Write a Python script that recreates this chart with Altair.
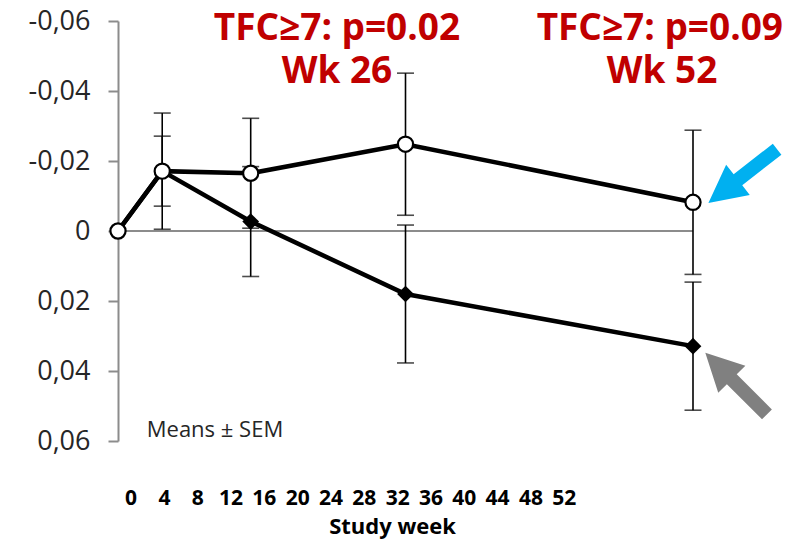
import altair as alt
import pandas as pd

# ---- data ----
weeks = [0, 4, 12, 26, 52]
mean_open = [0.0, -0.0171, -0.0165, -0.0248, -0.0082]
sem_open = [0.0, 0.0166, 0.0157, 0.0203, 0.0206]
mean_filled = [0.0, -0.0171, -0.0027, 0.0180, 0.0329]
sem_filled = [0.0, 0.0100, 0.0157, 0.0197, 0.0183]

y_ticks = [-0.06, -0.04, -0.02, 0.0, 0.02, 0.04, 0.06]
x_tick_labels = [0, 4, 8, 12, 16, 20, 24, 28, 32, 36, 40, 44, 48, 52]

note_text = ["TFC≥7: p=0.02", "Wk 26", "TFC≥7: p=0.09", "Wk 52"]
note_week = [19.8, 19.8, 49.0, 49.2]
note_value = [-0.0546, -0.0423, -0.0546, -0.0423]

means_text = ["Means ± SEM"]
means_week = [2.6]
means_value = [0.0589]

arrow_week = [56.5, 55.9]
arrow_value = [-0.0157, 0.0436]
arrow_angle = [142, 225]
arrow_color = ["#00B0F0", "#808080"]

FONT = "Open Sans"

df = pd.DataFrame({
    "week": weeks * 2,
    "mean": mean_open + mean_filled,
    "sem": sem_open + sem_filled,
    "group": ["open"] * len(weeks) + ["filled"] * len(weeks),
})
notes = pd.DataFrame({"text": note_text, "week": note_week, "value": note_value})
means_df = pd.DataFrame({"text": means_text, "week": means_week, "value": means_value})
arrows = pd.DataFrame({"week": arrow_week, "value": arrow_value,
                       "angle": arrow_angle, "color": arrow_color})
zero_df = pd.DataFrame({"value": [0.0]})
xlab_df = pd.DataFrame({"w": x_tick_labels})

xs = alt.Scale(domain=[0, 52], nice=False, zero=False)
ys = alt.Scale(domain=[-0.06, 0.06], reverse=True, nice=False, zero=False)

X = alt.X("week:Q", scale=xs, axis=None)
Y_AX = alt.Axis(
    values=y_ticks, grid=False, title=None,
    labelExpr="datum.value == 0 ? '0' : replace(replace(format(datum.value, '.2f'), '.', ','), '\u2212', '-')",
    labelFont=FONT, labelFontSize=27, labelColor="#262626", labelPadding=18,
    domainColor="#8c8c8c", domainWidth=2, tickColor="#8c8c8c", tickWidth=2, tickSize=10,
)

zero = alt.Chart(zero_df).mark_rule(color="#8c8c8c", strokeWidth=2).encode(
    y=alt.Y("value:Q", scale=ys, axis=Y_AX)
)

base = alt.Chart(df)
err = base.transform_filter("datum.sem > 0").transform_calculate(
    lo="datum.mean - datum.sem", hi="datum.mean + datum.sem"
)
err_rule = err.mark_rule(color="black", strokeWidth=1.6).encode(
    x=X, y=alt.Y("lo:Q", scale=ys), y2="hi:Q"
)
cap_lo = err.mark_tick(color="black", thickness=1.6, size=17, orient="horizontal").encode(
    x=X, y=alt.Y("lo:Q", scale=ys)
)
cap_hi = err.mark_tick(color="black", thickness=1.6, size=17, orient="horizontal").encode(
    x=X, y=alt.Y("hi:Q", scale=ys)
)

line_f = base.transform_filter("datum.group == 'filled'").mark_line(
    color="black", strokeWidth=4.5).encode(x=X, y=alt.Y("mean:Q", scale=ys))
line_o = base.transform_filter("datum.group == 'open'").mark_line(
    color="black", strokeWidth=4.5).encode(x=X, y=alt.Y("mean:Q", scale=ys))

pts_f = base.transform_filter("datum.group == 'filled' && datum.week > 4").mark_point(
    shape="diamond", filled=True, color="black", size=280, opacity=1
).encode(x=X, y=alt.Y("mean:Q", scale=ys))
pts_o = base.transform_filter("datum.group == 'open'").mark_point(
    shape="circle", filled=True, fill="white", stroke="black", strokeWidth=2.2,
    size=230, opacity=1
).encode(x=X, y=alt.Y("mean:Q", scale=ys))

note_marks = alt.Chart(notes).mark_text(
    font=FONT, fontSize=37, fontWeight="bold", color="#C00000",
    align="center", baseline="alphabetic"
).encode(x=X, y=alt.Y("value:Q", scale=ys), text="text:N")

means_mark = alt.Chart(means_df).mark_text(
    font=FONT, fontSize=22, color="#262626", align="left", baseline="alphabetic"
).encode(x=X, y=alt.Y("value:Q", scale=ys), text="text:N")

ARROW = "M -1,-0.16 L 0.14,-0.16 L 0.14,-0.44 L 1,0 L 0.14,0.44 L 0.14,0.16 L -1,0.16 Z"
arrow_marks = alt.Chart(arrows).mark_point(
    shape=ARROW, filled=True, size=7600, opacity=1, strokeWidth=0
).encode(
    x=X, y=alt.Y("value:Q", scale=ys),
    angle=alt.Angle("angle:Q", scale=None),
    color=alt.Color("color:N", scale=None),
)

xlabels = alt.Chart(xlab_df).mark_point(opacity=0).encode(
    x=alt.X("w:Q", scale=alt.Scale(domain=[-1.51, 67.52], nice=False, zero=False),
            axis=alt.Axis(values=x_tick_labels, domain=False, ticks=False, grid=False,
                          labelFont=FONT, labelFontSize=21, labelFontWeight="bold",
                          labelColor="black", labelPadding=46, labelFlush=False,
                          labelOverlap=False, title="Study week", titleFont=FONT,
                          titleFontSize=22, titleFontWeight="bold", titleColor="black",
                          titlePadding=8, titleX=274)),
)

chart = alt.layer(
    xlabels, zero, err_rule, cap_lo, cap_hi, line_f, line_o, pts_f, pts_o,
    note_marks, means_mark, arrow_marks
).resolve_scale(x="independent").properties(
    width=575, height=420,
    background="white",
    autosize=alt.AutoSizeParams(type="none"),
    padding={"left": 118, "top": 21, "right": 101, "bottom": 107},
).configure_view(stroke=None)

chart.save("out.html", embed_options={"renderer": "svg", "actions": False})
